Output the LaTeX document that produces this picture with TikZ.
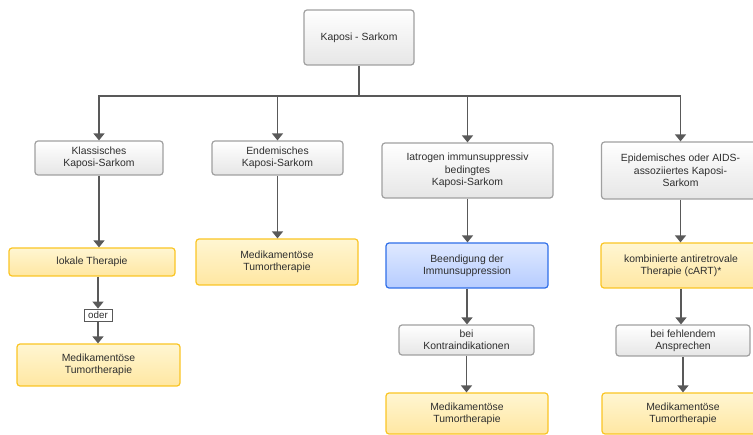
\documentclass[tikz,border=0pt]{standalone}
\usepackage{fontspec}
\setmainfont{Liberation Sans}
\usepackage{tikz}
\usetikzlibrary{arrows.meta}
\usepackage{xcolor}

\definecolor{linegray}{HTML}{595959}
\definecolor{boxgray}{HTML}{A0A0A0}
\definecolor{graybot}{HTML}{E6E6E6}
\definecolor{boxgold}{HTML}{FAC525}
\definecolor{goldtop}{HTML}{FFF6D2}
\definecolor{goldbot}{HTML}{FFE7A2}
\definecolor{boxblue}{HTML}{2F6FE8}
\definecolor{bluetop}{HTML}{DFE9FF}
\definecolor{bluebot}{HTML}{B6CCFF}
\definecolor{txtgray}{HTML}{2E2E2E}

\begin{document}
\begin{tikzpicture}[x=1pt,y=-1pt,
every node/.style={font=\fontsize{10.4}{12.3}\selectfont,text=txtgray,align=center,
  rounded corners=3pt,line width=1.2pt,inner sep=0pt},
graybox/.style={draw=boxgray,top color=white,bottom color=graybot},
goldbox/.style={draw=boxgold,top color=goldtop,bottom color=goldbot},
bluebox/.style={draw=boxblue,top color=bluetop,bottom color=bluebot},
conn/.style={draw=linegray,line width=1.4pt,-{Triangle[width=11pt,length=7pt]}}]
\useasboundingbox (0,0) rectangle (753,435);

\node (Root) [graybox,minimum width=110,minimum height=55] at (359,37.5) {Kaposi - Sarkom};
\coordinate (split) at (359,96);

% four kinds
\node (klass) [graybox,minimum width=128,minimum height=34] at (99,158) {Klassisches\\Kaposi-Sarkom};
\node (endem) [graybox,minimum width=131,minimum height=34] at (277.5,158) {Endemisches\\Kaposi-Sarkom};
\node (iatro) [graybox,minimum width=171,minimum height=55] at (467.5,170.5) {Iatrogen immunsuppressiv\\bedingtes\\Kaposi-Sarkom};
\node (epid) [graybox,minimum width=158,minimum height=57] at (680.5,170.5) {Epidemisches oder AIDS-\\assoziiertes Kaposi-\\Sarkom};

% klassisch
\node (lokal) [goldbox,minimum width=166,minimum height=28] at (92,262) {lokale Therapie};
\node (oder) [draw=linegray,rounded corners=0pt,line width=0.8pt,fill=white,
  minimum width=28,minimum height=12,font=\fontsize{9.8}{11}\selectfont] at (98,315) {oder};
\node (medK) [goldbox,minimum width=163,minimum height=42] at (98.5,365) {Medikamentöse\\Tumortherapie};

% endemisch
\node (medE) [goldbox,minimum width=162,minimum height=46] at (277,262) {Medikamentöse\\Tumortherapie};

% iatrogen
\node (been) [bluebox,minimum width=162,minimum height=45] at (467,265.5) {Beendigung der\\Immunsuppression};
\node (kontra) [graybox,minimum width=135,minimum height=30] at (466.5,340) {bei\\Kontraindikationen};
\node (medI) [goldbox,minimum width=162,minimum height=41] at (467,413.5) {Medikamentöse\\Tumortherapie};

% epidemisch
\node (cart) [goldbox,minimum width=160,minimum height=45] at (681,265.5) {kombinierte antiretrovale\\Therapie (cART)*};
\node (fehl) [graybox,minimum width=134,minimum height=31] at (683,340.5) {bei fehlendem\\Ansprechen};
\node (medEp) [goldbox,minimum width=162,minimum height=41] at (683,413.5) {Medikamentöse\\Tumortherapie};

\draw[draw=linegray,line width=1.4pt] (Root.south) -- (split);
\foreach \k in {klass,endem,iatro,epid}
  \draw[conn] (split) -| (\k.north);

\draw[conn] (klass) -- (klass.south |- lokal.north);
\draw[conn] (lokal.south -| oder) -- (oder.north);
\draw[conn] (oder) -- (oder.south |- medK.north);
\draw[conn] (endem) -- (endem.south |- medE.north);
\draw[conn] (iatro) -- (iatro.south |- been.north);
\draw[conn] (been) -- (been.south |- kontra.north);
\draw[conn] (kontra) -- (kontra.south |- medI.north);
\draw[conn] (epid) -- (epid.south |- cart.north);
\draw[conn] (cart) -- (cart.south |- fehl.north);
\draw[conn] (fehl) -- (fehl.south |- medEp.north);
\end{tikzpicture}
\end{document}
